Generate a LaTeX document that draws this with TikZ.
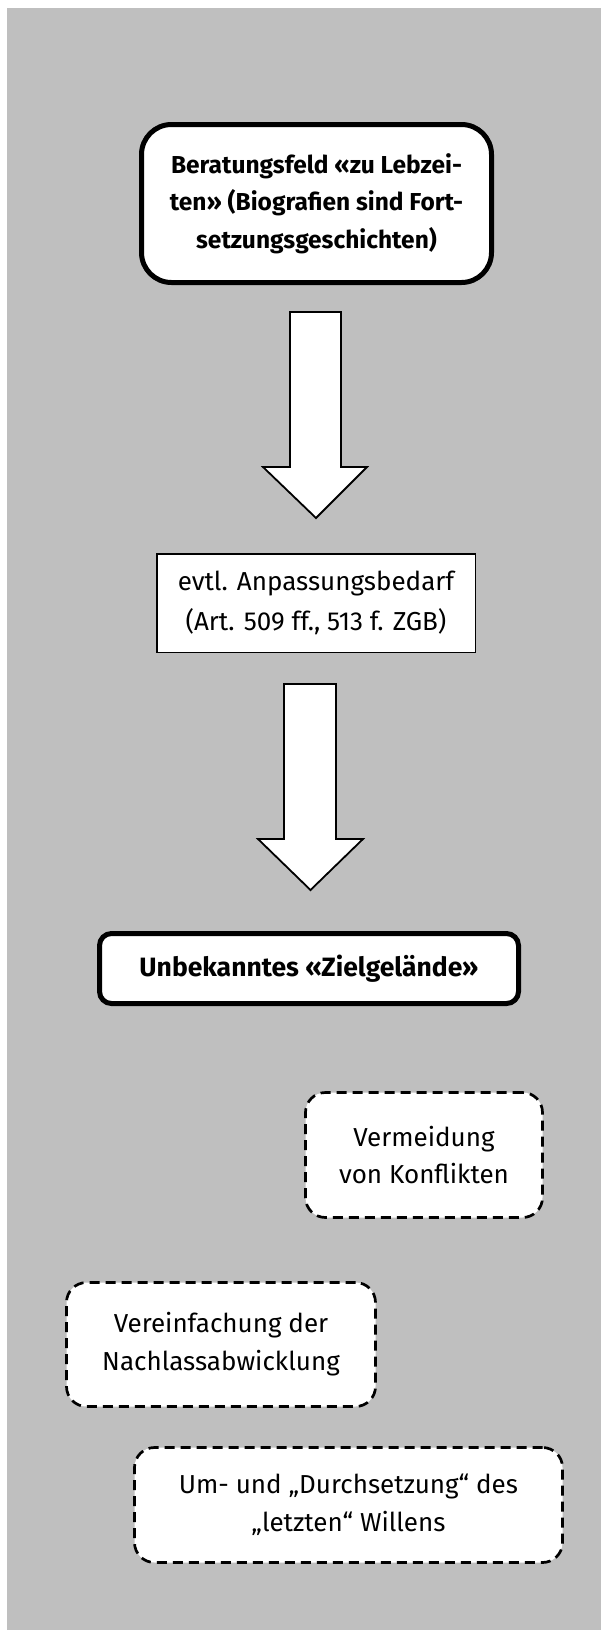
\documentclass[tikz,border=0pt]{standalone}
\usepackage{fontspec}
\setmainfont{Fira Sans}
\definecolor{bggray}{RGB}{191,191,191}
\begin{document}
\begin{tikzpicture}[x=1pt,y=-1pt,
  box/.style={draw=black,fill=white,inner sep=0pt,align=center,anchor=center},
  solidbox/.style={box,line width=5pt},
  thinbox/.style={box,line width=1.5pt},
  dashbox/.style={box,line width=2.7pt,dash pattern=on 10pt off 6pt,rounded corners=20pt},
  blockarrow/.style={draw=black,fill=white,line width=1.8pt,line join=miter}
]
\useasboundingbox (0,0) rectangle (601,1630);
\fill[white] (0,0) rectangle (601,1630);
\fill[bggray] (7,8) rectangle (601,1630);

\node[solidbox,rounded corners=30pt,minimum width=350pt,minimum height=158pt,
  font=\fontsize{24.5}{37.5}\selectfont\bfseries] (b1) at (316.5,203.5)
  {Beratungsfeld «zu Lebzei-\\ten» (Biografien sind Fort-\\setzungsgeschichten)};

\node[thinbox,minimum width=318.5pt,minimum height=98.5pt,
  font=\fontsize{26}{40}\selectfont] (b2) at (316,603)
  {evtl. Anpassungsbedarf\\(Art. 509 ff., 513 f. ZGB)};

\node[solidbox,rounded corners=12pt,minimum width=419pt,minimum height=70pt,
  font=\fontsize{26.5}{36}\selectfont\bfseries] (b3) at (309,968.5)
  {Unbekanntes «Zielgelände»};

\node[dashbox,minimum width=237pt,minimum height=125pt,
  font=\fontsize{26}{37}\selectfont] (b4) at (424,1155)
  {Vermeidung\\von Konflikten};

\node[dashbox,minimum width=309pt,minimum height=124pt,
  font=\fontsize{26}{38}\selectfont] (b5) at (221,1344.5)
  {Vereinfachung der\\Nachlassabwicklung};

\node[dashbox,minimum width=428pt,minimum height=115pt,
  font=\fontsize{26}{38}\selectfont] (b6) at (348.5,1505)
  {Um- und „Durchsetzung“ des\\„letzten“ Willens};

% block arrows
\draw[blockarrow] (290,312) -- (341,312) -- (341,467) -- (367,467) -- (316,518)
  -- (263,467) -- (290,467) -- cycle;
\draw[blockarrow] (284,684) -- (336,684) -- (336,839) -- (363,839) -- (310.5,890)
  -- (258,839) -- (284,839) -- cycle;
\end{tikzpicture}
\end{document}
